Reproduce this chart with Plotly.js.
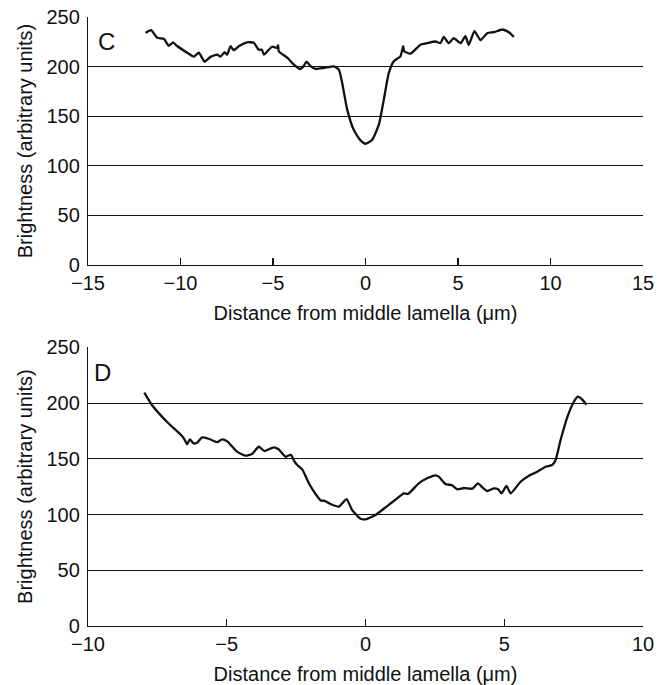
<!DOCTYPE html>
<html>
<head>
<meta charset="utf-8">
<script src="https://cdn.plot.ly/plotly-3.0.1.min.js"></script>
<style>html,body{margin:0;padding:0;background:#fff;}#chart{width:664px;height:685px;}</style>
</head>
<body>
<div id="chart"></div>
<script>
// Panel C: brightness profile
const cX = [-11.89,-11.59,-11.26,-10.9,-10.63,-10.4,-10.2,-9.64,-9.28,-9.01,-8.7,-8.38,-8.02,-7.84,-7.62,-7.48,-7.3,-7.12,-6.85,-6.4,-6.04,-5.77,-5.6,-5.49,-5.3,-5.05,-4.78,-4.72,-4.69,-4.23,-3.87,-3.55,-3.36,-3.19,-2.97,-2.7,-2.25,-1.71,-1.44,-1.26,-0.99,-0.63,-0.27,0,0.36,0.72,0.99,1.26,1.53,1.89,2.04,2.09,2.43,2.97,3.33,3.78,4.05,4.23,4.5,4.77,5.14,5.4,5.58,5.89,6.22,6.58,6.94,7.39,7.75,8.02];
const cY = [234,236.7,229,228,221,224.5,221,214,210,214,205,209.8,212,210,214.5,212,220.5,216.5,220.5,224.5,224,217,217,212,215.5,220,219,221.5,215.5,209,202,197.6,200,205,200.5,197.6,198.6,200.3,197,183.5,156.6,136,125.6,122.2,126.3,141.4,166.7,193.6,205.4,210.4,220.5,215.5,213,222,223.6,225.3,223.6,230,223.6,228.6,223.6,230.6,222,235.7,226.6,233.7,234.7,237.4,234.7,230];
// Panel D: brightness profile
const dX = [-7.97,-7.69,-7.15,-6.61,-6.51,-6.43,-6.33,-6.19,-6.07,-5.89,-5.65,-5.35,-5.17,-4.98,-4.63,-4.33,-4.09,-3.85,-3.64,-3.31,-3.13,-2.88,-2.8,-2.68,-2.58,-2.46,-2.28,-2.04,-1.8,-1.6,-1.5,-1.26,-0.96,-0.84,-0.68,-0.48,-0.18,0,0.36,0.78,1.14,1.38,1.53,1.92,2.22,2.52,2.64,2.88,3.12,3.31,3.55,3.85,4.05,4.21,4.39,4.63,4.78,4.9,5.08,5.23,5.59,5.89,6.19,6.49,6.73,6.85,7.03,7.27,7.51,7.65,7.83,7.96];
const dY = [209.3,198,183,170.4,166.8,163,167.4,163.8,164.4,169.2,168,165,167.4,165.6,156.4,152.8,154.3,160.8,157,160.3,158.5,151.8,152.7,153.4,148.3,144.4,140.5,128,118.4,112.4,112.5,109.4,107,110,113.9,104,96.2,95.7,99.6,107.6,114.5,119,118.4,128,132.5,135.2,134,127.4,126.2,122.6,123.8,123.2,128,124.4,121.1,123.5,122.6,119,125.6,119,129.4,134.8,138.4,142.9,144.4,148.9,166.8,187.2,201.2,205.7,202.6,198.5];

const xTitle = 'Distance from middle lamella (\u03bcm)';
const yTitle = 'Brightness (arbitrary units)';
const panelLabels = ['C', 'D'];

const FONT = 'Liberation Sans, Arial, Helvetica, sans-serif';
const lineStyle = {color: '#111', width: 2.3, shape: 'spline', smoothing: 0.5};

const data = [
  {x: cX, y: cY, type: 'scatter', mode: 'lines', line: lineStyle, xaxis: 'x', yaxis: 'y', hoverinfo: 'skip'},
  {x: dX, y: dY, type: 'scatter', mode: 'lines', line: lineStyle, xaxis: 'x2', yaxis: 'y2', hoverinfo: 'skip'}
];

function xa(range, dtick, domainAnchor) {
  return {
    range: range, dtick: dtick, tick0: 0, anchor: domainAnchor,
    showline: true, linecolor: '#111', linewidth: 1.2,
    ticks: 'inside', ticklen: 7, tickcolor: '#111', tickwidth: 1.2,
    showgrid: false, zeroline: false,
    ticklabelstandoff: 0,
    tickfont: {family: FONT, size: 20, color: '#111'},
    title: {text: xTitle, font: {family: FONT, size: 20, color: '#111'}, standoff: 12},
    fixedrange: true
  };
}
function ya(domain, anchor) {
  return {
    domain: domain, range: [0, 250], dtick: 50, anchor: anchor,
    showline: true, linecolor: '#111', linewidth: 1.2,
    ticks: '', showgrid: true, gridcolor: '#111', gridwidth: 1.1,
    zeroline: false,
    tickfont: {family: FONT, size: 20, color: '#111'},
    title: {text: yTitle, font: {family: FONT, size: 20, color: '#111'}, standoff: 8},
    ticklabelstandoff: 3,
    fixedrange: true
  };
}

const layout = {
  width: 664, height: 685,
  margin: {l: 88, r: 21, t: 17, b: 59},
  paper_bgcolor: '#fff', plot_bgcolor: '#fff',
  showlegend: false,
  xaxis: xa([-15, 15], 5, 'y'),
  yaxis: ya([0.5928, 1], 'x'),
  xaxis2: xa([-10, 10], 5, 'y2'),
  yaxis2: ya([0, 0.4576], 'x2'),
  annotations: [
    {text: panelLabels[0], xref: 'x domain', yref: 'y domain', x: 0.014, y: 0.965, xanchor: 'left', yanchor: 'top', showarrow: false, font: {family: FONT, size: 24, color: '#111'}},
    {text: panelLabels[1], xref: 'x2 domain', yref: 'y2 domain', x: 0.008, y: 0.965, xanchor: 'left', yanchor: 'top', showarrow: false, font: {family: FONT, size: 24, color: '#111'}}
  ]
};

Plotly.newPlot('chart', data, layout, {displayModeBar: false, staticPlot: true});
</script>
</body>
</html>
